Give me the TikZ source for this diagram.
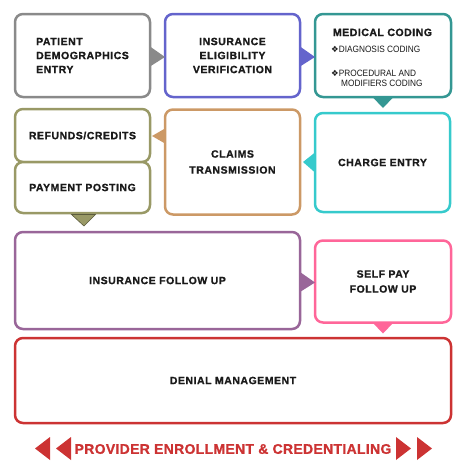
\documentclass[tikz,border=0pt]{standalone}
\usepackage{fontspec}
\setmainfont{Liberation Sans}
\newfontfamily\symfont{DejaVu Sans}
\usetikzlibrary{calc}
\definecolor{cgray}{HTML}{8A8A8A}
\definecolor{cblue}{HTML}{6464CC}
\definecolor{cteal}{HTML}{349793}
\definecolor{colive}{HTML}{999966}
\definecolor{ctan}{HTML}{CC9966}
\definecolor{ccyan}{HTML}{36CACC}
\definecolor{cpurple}{HTML}{996699}
\definecolor{cpink}{HTML}{FF6699}
\definecolor{cred}{HTML}{CC3333}
\definecolor{ctext}{HTML}{1A1A1A}
\newcommand{\bfont}[1]{\fontsize{10.5}{#1}\selectfont\bfseries\addfontfeatures{LetterSpace=5,FakeBold=1.2}}
\newcommand{\sfnt}{\fontsize{9.2}{10}\selectfont\addfontfeatures{FakeStretch=0.9}}
\newcommand{\dia}{{\symfont\fontsize{8.5}{10}\selectfont ❖}}
\begin{document}
\begin{tikzpicture}[x=1pt,y=-1pt,
  flowbox/.style={draw=#1, line width=2.5pt, rounded corners=8pt, fill=white,
    inner sep=0pt, outer sep=0pt, text=ctext, font=\bfont{14}},
  lbl/.style={inner sep=0pt, text=ctext},
  tri/.style={fill=#1, draw=none}]
\useasboundingbox (0,0) rectangle (465,475);
% row 1
\node[flowbox=cgray, minimum width=135, minimum height=83, align=left] (p1) at (82.5,55.5)
  {PATIENT\\DEMOGRAPHICS\\ENTRY};
\node[flowbox=cblue, minimum width=135, minimum height=83, align=center] (p2) at (232.5,55.5)
  {INSURANCE\\ELIGIBILITY\\VERIFICATION};
\node[flowbox=cteal, minimum width=136, minimum height=83] (p3) at (383,55.5) {};
\node[lbl, font=\bfont{14}, anchor=base] (mc) at (382.5,36) {MEDICAL CODING};
\node[lbl, font=\sfnt, anchor=base west, align=left] (dx) at (331,52)
  {\dia DIAGNOSIS CODING};
\node[lbl, font=\sfnt, anchor=base west, align=left] (px) at (331,76)
  {\dia PROCEDURAL AND};
\node[lbl, font=\sfnt, anchor=base west, align=left] (px2) at (341,86.5)
  {MODIFIERS CODING};
% row 2
\node[flowbox=colive, minimum width=135, minimum height=53] (rf) at (82.5,135.5) {REFUNDS/CREDITS};
\node[flowbox=colive, minimum width=135, minimum height=51] (pp) at (82.5,187.5) {PAYMENT POSTING};
\node[flowbox=ctan, minimum width=135, minimum height=105, align=center, font=\bfont{16}] (ct) at (232.5,162)
  {CLAIMS\\TRANSMISSION};
\node[flowbox=ccyan, minimum width=135, minimum height=99] (ce) at (382.5,162.5) {CHARGE ENTRY};
% row 3
\node[flowbox=cpurple, minimum width=285, minimum height=97] (ifu) at (157.5,280.5) {INSURANCE FOLLOW UP};
\node[flowbox=cpink, minimum width=136, minimum height=82, align=center, font=\bfont{15}] (sp) at (383,281.5)
  {SELF PAY\\FOLLOW UP};
% row 4
\node[flowbox=cred, minimum width=436, minimum height=85] (dm) at (233,380.5) {DENIAL MANAGEMENT};
% connectors (triangles)
\fill[tri=cgray] ($(p1.east)+(0,-9)$) -- ($(p1.east)+(0,11)$) -- ($(p2.west)+(0,1.5)$) -- cycle;
\fill[tri=cblue] ($(p2.east)+(0,-9)$) -- ($(p2.east)+(0,11)$) -- ($(p3.west)+(0,1.5)$) -- cycle;
\fill[tri=cteal] ($(p3.south)+(-10.5,0)$) -- ($(p3.south)+(10.5,0)$) -- ($(p3.south)+(0,11)$) -- cycle;
\fill[tri=ccyan] ($(ce.west)+(0,-10)$) -- ($(ce.west)+(0,10)$) -- ($(ct.east)+(3,0)$) -- cycle;
\fill[tri=ctan] ($(ct.west)+(0,-33.5)$) -- ($(ct.west)+(0,-18.5)$) -- ($(rf.east)+(2,0.5)$) -- cycle;
\filldraw[fill=colive, draw=colive!60!black, line width=0.6pt] ($(pp.south)+(-11,1.5)$) -- ($(pp.south)+(13,1.5)$) -- ($(pp.south)+(1.5,13)$) -- cycle;
\fill[tri=cpurple] ($(ifu.east)+(0,-8.5)$) -- ($(ifu.east)+(0,11.5)$) -- ($(sp.west)+(0,1)$) -- cycle;
\fill[tri=cpink] ($(sp.south)+(-10.5,0)$) -- ($(sp.south)+(10.5,0)$) -- ($(sp.south)+(0,11)$) -- cycle;
% bottom banner
\node[lbl, text=cred, font=\fontsize{14}{16}\selectfont\bfseries\addfontfeatures{LetterSpace=2.2,FakeBold=1}] (pec) at (233,449)
  {PROVIDER ENROLLMENT \& CREDENTIALING};
\fill[cred] (50,437) -- (50,460) -- (35,448.5) -- cycle;
\fill[cred] (71,437) -- (71,460) -- (56,448.5) -- cycle;
\fill[cred] (396,437) -- (396,460) -- (411,448.5) -- cycle;
\fill[cred] (417,437) -- (417,460) -- (432,448.5) -- cycle;
\end{tikzpicture}
\end{document}
